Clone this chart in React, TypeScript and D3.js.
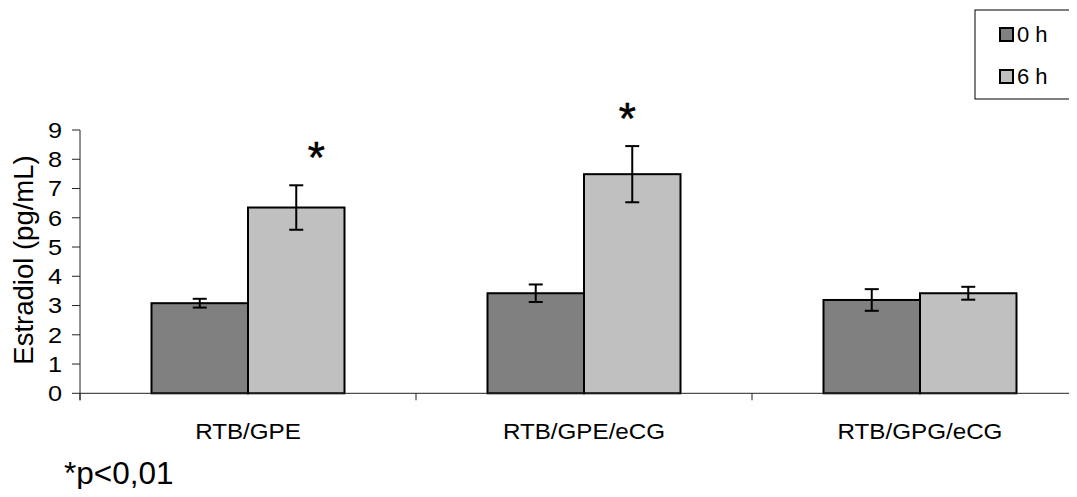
import React from 'react';
import * as d3 from 'd3';

const categories = ['RTB/GPE', 'RTB/GPE/eCG', 'RTB/GPG/eCG'];
const seriesNames = ['0 h', '6 h'];
const seriesColors = ['#808080', '#c0c0c0'];
const values0h = [3.08, 3.42, 3.19];
const err0h = [0.15, 0.3, 0.37];
const values6h = [6.35, 7.49, 3.42];
const err6h = [0.76, 0.96, 0.22];
const significant6h = [true, true, false];
const yTicks = [0, 1, 2, 3, 4, 5, 6, 7, 8, 9];

const W = 1077;
const H = 497;
const font = 'Arial, "Liberation Sans", sans-serif';

export default function App() {
  const x0 = d3.scaleBand().domain(categories).range([80, 1088]).paddingInner(0).paddingOuter(0);
  const x1 = d3.scaleBand().domain(seriesNames).range([0, x0.bandwidth()]).paddingInner(0).paddingOuter(0.741);
  const y = d3.scaleLinear().domain([0, 9]).range([393.3, 130]);

  const series = [
    { name: seriesNames[0], vals: values0h, errs: err0h, color: seriesColors[0] },
    { name: seriesNames[1], vals: values6h, errs: err6h, color: seriesColors[1] },
  ];
  const bw = x1.bandwidth();

  return (
    <div style={{ margin: -8 }}>
      <svg width={W} height={H} style={{ display: 'block', background: '#fff' }}>
        {/* bars */}
        {series.map((s) =>
          categories.map((c, i) => (
            <rect
              key={s.name + c}
              x={(x0(c) ?? 0) + (x1(s.name) ?? 0)}
              y={y(s.vals[i])}
              width={bw}
              height={y(0) - y(s.vals[i])}
              fill={s.color}
              stroke="#000"
              strokeWidth={2}
            />
          ))
        )}

        {/* axes */}
        <line x1={80} x2={W} y1={y(0)} y2={y(0)} stroke="#222" strokeWidth={1} />
        <line x1={80} x2={80} y1={y(9)} y2={y(0) + 7} stroke="#222" strokeWidth={1} />
        {yTicks.map((t) => (
          <g key={t}>
            <line x1={72} x2={80} y1={y(t)} y2={y(t)} stroke="#222" strokeWidth={1} />
            <text x={62} y={y(t)} dy="0.36em" textAnchor="end" fontSize={22} fontFamily={font}
              transform={`translate(${62 * -0.15},0) scale(1.15,1)`}>
              {t}
            </text>
          </g>
        ))}
        {[...categories.map((c) => x0(c) ?? 0), 1088].map((xv, i) => (
          <line key={i} x1={xv} x2={xv} y1={y(0)} y2={y(0) + 7} stroke="#222" strokeWidth={1} />
        ))}
        {categories.map((c) => {
          const cx = (x0(c) ?? 0) + x0.bandwidth() / 2;
          return (
            <text
              key={c}
              x={cx}
              y={431}
              dy="0.36em"
              textAnchor="middle"
              fontSize={22}
              fontFamily={font}
              transform={`translate(${cx * -0.1},0) scale(1.1,1)`}
            >
              {c}
            </text>
          );
        })}

        {/* error bars */}
        {series.map((s) =>
          categories.map((c, i) => {
            const cx = (x0(c) ?? 0) + (x1(s.name) ?? 0) + bw / 2;
            const top = y(s.vals[i] + s.errs[i]);
            const bot = y(s.vals[i] - s.errs[i]);
            return (
              <g key={'e' + s.name + c} stroke="#000" strokeWidth={2}>
                <line x1={cx} x2={cx} y1={top} y2={bot} />
                <line x1={cx - 7} x2={cx + 7} y1={top} y2={top} />
                <line x1={cx - 7} x2={cx + 7} y1={bot} y2={bot} />
              </g>
            );
          })
        )}

        {/* significance marks */}
        {categories.map((c, i) =>
          significant6h[i] ? (
            <text
              key={'s' + c}
              x={(x0(c) ?? 0) + (x1(seriesNames[1]) ?? 0) + bw / 2 + (i === 0 ? 20 : -5)}
              y={y(values6h[i] + err6h[i]) - 38 + 26}
              textAnchor="middle"
              fontSize={44}
              fontFamily={font}
              stroke="#000"
              strokeWidth={0.6}
            >
              *
            </text>
          ) : null
        )}

        {/* y axis title */}
        <text
          transform={`translate(33,${260}) rotate(-90)`}
          textAnchor="middle"
          fontSize={27.5}
          fontFamily={font}
        >
          Estradiol (pg/mL)
        </text>

        {/* legend */}
        <rect x={975} y={10} width={100} height={89} fill="#fff" stroke="#000" strokeWidth={1} />
        {series.map((s, i) => (
          <g key={'l' + s.name}>
            <rect x={1000} y={28 + i * 42} width={13} height={13} fill={s.color} stroke="#000" strokeWidth={2} />
            <text x={1017} y={34.5 + i * 42} dy="0.36em" fontSize={22} fontFamily={font}>
              {s.name}
            </text>
          </g>
        ))}

        {/* footnote */}
        <text x={64} y={484} fontSize={31.5} fontFamily={font}>
          *p&lt;0,01
        </text>
      </svg>
    </div>
  );
}
